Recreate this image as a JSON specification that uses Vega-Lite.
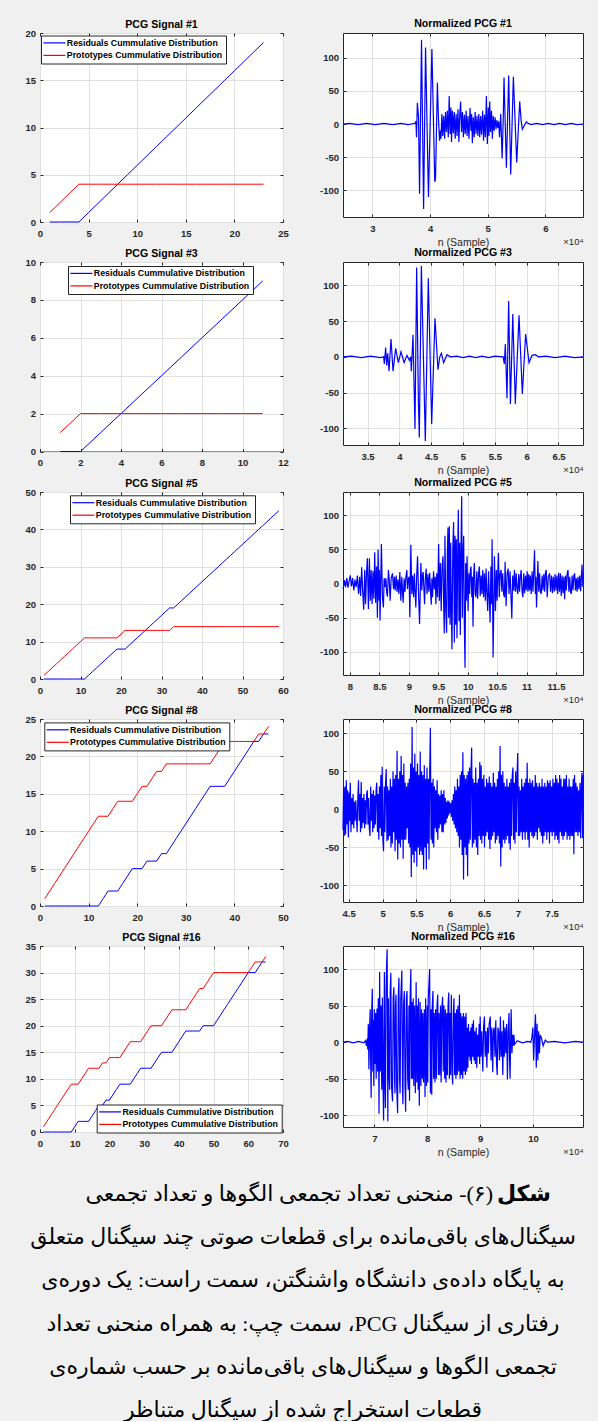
{
"$schema": "https://vega.github.io/schema/vega-lite/v6.json",
"background": "#f0f0f0",
"padding": {"left": 24, "top": 18, "right": 14, "bottom": 0},
"config": {
  "font": "Liberation Sans",
  "view": {"stroke": "#262626", "strokeWidth": 1, "fill": "white"},
  "axis": {"labelFont": "Liberation Sans", "labelFontSize": 9.5, "labelFontWeight": "bold", "labelColor": "#262626", "domain": false, "tickColor": "#262626", "tickSize": -3, "tickWidth": 1, "gridColor": "#e0e0e0", "gridWidth": 1, "labelOverlap": false, "labelFlush": false, "titleFont": "Liberation Sans", "titleFontSize": 10.5, "titleFontWeight": "normal", "titleColor": "#262626"},
  "axisX": {"labelPadding": 9},
  "axisY": {"labelPadding": 7.5},
  "title": {"font": "Liberation Sans", "fontSize": 10.6, "fontWeight": "bold", "color": "black", "offset": -2.5, "frame": "group"},
  "legend": {"orient": "none", "title": null, "fillColor": "white", "strokeColor": "#262626", "padding": 3, "labelFont": "Liberation Sans", "labelFontSize": 8.8, "labelFontWeight": "bold", "labelColor": "black", "symbolType": "M-5,0H17", "symbolSize": 4, "symbolStrokeWidth": 1.2, "rowPadding": 2.5, "labelOffset": 14, "labelLimit": 300}
},
"datasets": {
"p1": [{"k":1,"r":0,"p":1},{"k":2,"r":0,"p":2},{"k":3,"r":0,"p":3},{"k":4,"r":0,"p":4},{"k":5,"r":1,"p":4},{"k":6,"r":2,"p":4},{"k":7,"r":3,"p":4},{"k":8,"r":4,"p":4},{"k":9,"r":5,"p":4},{"k":10,"r":6,"p":4},{"k":11,"r":7,"p":4},{"k":12,"r":8,"p":4},{"k":13,"r":9,"p":4},{"k":14,"r":10,"p":4},{"k":15,"r":11,"p":4},{"k":16,"r":12,"p":4},{"k":17,"r":13,"p":4},{"k":18,"r":14,"p":4},{"k":19,"r":15,"p":4},{"k":20,"r":16,"p":4},{"k":21,"r":17,"p":4},{"k":22,"r":18,"p":4},{"k":23,"r":19,"p":4}],
"p3": [{"k":1,"r":0,"p":1},{"k":2,"r":0,"p":2},{"k":3,"r":1,"p":2},{"k":4,"r":2,"p":2},{"k":5,"r":3,"p":2},{"k":6,"r":4,"p":2},{"k":7,"r":5,"p":2},{"k":8,"r":6,"p":2},{"k":9,"r":7,"p":2},{"k":10,"r":8,"p":2},{"k":11,"r":9,"p":2}],
"p5": [{"k":1,"r":0,"p":1},{"k":2,"r":0,"p":2},{"k":3,"r":0,"p":3},{"k":4,"r":0,"p":4},{"k":5,"r":0,"p":5},{"k":6,"r":0,"p":6},{"k":7,"r":0,"p":7},{"k":8,"r":0,"p":8},{"k":9,"r":0,"p":9},{"k":10,"r":0,"p":10},{"k":11,"r":0,"p":11},{"k":12,"r":1,"p":11},{"k":13,"r":2,"p":11},{"k":14,"r":3,"p":11},{"k":15,"r":4,"p":11},{"k":16,"r":5,"p":11},{"k":17,"r":6,"p":11},{"k":18,"r":7,"p":11},{"k":19,"r":8,"p":11},{"k":20,"r":8,"p":12},{"k":21,"r":8,"p":13},{"k":22,"r":9,"p":13},{"k":23,"r":10,"p":13},{"k":24,"r":11,"p":13},{"k":25,"r":12,"p":13},{"k":26,"r":13,"p":13},{"k":27,"r":14,"p":13},{"k":28,"r":15,"p":13},{"k":29,"r":16,"p":13},{"k":30,"r":17,"p":13},{"k":31,"r":18,"p":13},{"k":32,"r":19,"p":13},{"k":33,"r":19,"p":14},{"k":34,"r":20,"p":14},{"k":35,"r":21,"p":14},{"k":36,"r":22,"p":14},{"k":37,"r":23,"p":14},{"k":38,"r":24,"p":14},{"k":39,"r":25,"p":14},{"k":40,"r":26,"p":14},{"k":41,"r":27,"p":14},{"k":42,"r":28,"p":14},{"k":43,"r":29,"p":14},{"k":44,"r":30,"p":14},{"k":45,"r":31,"p":14},{"k":46,"r":32,"p":14},{"k":47,"r":33,"p":14},{"k":48,"r":34,"p":14},{"k":49,"r":35,"p":14},{"k":50,"r":36,"p":14},{"k":51,"r":37,"p":14},{"k":52,"r":38,"p":14},{"k":53,"r":39,"p":14},{"k":54,"r":40,"p":14},{"k":55,"r":41,"p":14},{"k":56,"r":42,"p":14},{"k":57,"r":43,"p":14},{"k":58,"r":44,"p":14},{"k":59,"r":45,"p":14}],
"p8": [{"k":1,"r":0,"p":1},{"k":2,"r":0,"p":2},{"k":3,"r":0,"p":3},{"k":4,"r":0,"p":4},{"k":5,"r":0,"p":5},{"k":6,"r":0,"p":6},{"k":7,"r":0,"p":7},{"k":8,"r":0,"p":8},{"k":9,"r":0,"p":9},{"k":10,"r":0,"p":10},{"k":11,"r":0,"p":11},{"k":12,"r":0,"p":12},{"k":13,"r":1,"p":12},{"k":14,"r":2,"p":12},{"k":15,"r":2,"p":13},{"k":16,"r":2,"p":14},{"k":17,"r":3,"p":14},{"k":18,"r":4,"p":14},{"k":19,"r":5,"p":14},{"k":20,"r":5,"p":15},{"k":21,"r":5,"p":16},{"k":22,"r":6,"p":16},{"k":23,"r":6,"p":17},{"k":24,"r":6,"p":18},{"k":25,"r":7,"p":18},{"k":26,"r":7,"p":19},{"k":27,"r":8,"p":19},{"k":28,"r":9,"p":19},{"k":29,"r":10,"p":19},{"k":30,"r":11,"p":19},{"k":31,"r":12,"p":19},{"k":32,"r":13,"p":19},{"k":33,"r":14,"p":19},{"k":34,"r":15,"p":19},{"k":35,"r":16,"p":19},{"k":36,"r":16,"p":20},{"k":37,"r":16,"p":21},{"k":38,"r":16,"p":22},{"k":39,"r":17,"p":22},{"k":40,"r":18,"p":22},{"k":41,"r":19,"p":22},{"k":42,"r":20,"p":22},{"k":43,"r":21,"p":22},{"k":44,"r":22,"p":22},{"k":45,"r":22,"p":23},{"k":46,"r":23,"p":23},{"k":47,"r":23,"p":24}],
"p16": [{"k":1,"r":0,"p":1},{"k":2,"r":0,"p":2},{"k":3,"r":0,"p":3},{"k":4,"r":0,"p":4},{"k":5,"r":0,"p":5},{"k":6,"r":0,"p":6},{"k":7,"r":0,"p":7},{"k":8,"r":0,"p":8},{"k":9,"r":0,"p":9},{"k":10,"r":1,"p":9},{"k":11,"r":2,"p":9},{"k":12,"r":2,"p":10},{"k":13,"r":2,"p":11},{"k":14,"r":2,"p":12},{"k":15,"r":3,"p":12},{"k":16,"r":4,"p":12},{"k":17,"r":5,"p":12},{"k":18,"r":5,"p":13},{"k":19,"r":6,"p":13},{"k":20,"r":6,"p":14},{"k":21,"r":7,"p":14},{"k":22,"r":8,"p":14},{"k":23,"r":9,"p":14},{"k":24,"r":9,"p":15},{"k":25,"r":9,"p":16},{"k":26,"r":9,"p":17},{"k":27,"r":10,"p":17},{"k":28,"r":11,"p":17},{"k":29,"r":12,"p":17},{"k":30,"r":12,"p":18},{"k":31,"r":12,"p":19},{"k":32,"r":12,"p":20},{"k":33,"r":13,"p":20},{"k":34,"r":14,"p":20},{"k":35,"r":15,"p":20},{"k":36,"r":15,"p":21},{"k":37,"r":15,"p":22},{"k":38,"r":15,"p":23},{"k":39,"r":16,"p":23},{"k":40,"r":17,"p":23},{"k":41,"r":18,"p":23},{"k":42,"r":19,"p":23},{"k":43,"r":19,"p":24},{"k":44,"r":19,"p":25},{"k":45,"r":19,"p":26},{"k":46,"r":19,"p":27},{"k":47,"r":20,"p":27},{"k":48,"r":20,"p":28},{"k":49,"r":20,"p":29},{"k":50,"r":20,"p":30},{"k":51,"r":21,"p":30},{"k":52,"r":22,"p":30},{"k":53,"r":23,"p":30},{"k":54,"r":24,"p":30},{"k":55,"r":25,"p":30},{"k":56,"r":26,"p":30},{"k":57,"r":27,"p":30},{"k":58,"r":28,"p":30},{"k":59,"r":29,"p":30},{"k":60,"r":30,"p":30},{"k":61,"r":30,"p":31},{"k":62,"r":30,"p":32},{"k":63,"r":31,"p":32},{"k":64,"r":32,"p":32},{"k":65,"r":32,"p":33}],
"s1": [{"n":2.49,"a":0},{"n":2.6,"a":1},{"n":2.75,"a":-1},{"n":2.9,"a":1},{"n":3.05,"a":-1},{"n":3.2,"a":1},{"n":3.35,"a":-1},{"n":3.5,"a":1},{"n":3.62,"a":-1},{"n":3.74,"a":1},{"n":3.755,"a":4},{"n":3.765,"a":-20},{"n":3.78,"a":32},{"n":3.8,"a":10},{"n":3.818,"a":-105},{"n":3.852,"a":127},{"n":3.888,"a":-128},{"n":3.922,"a":115},{"n":3.972,"a":-110},{"n":4.032,"a":113},{"n":4.082,"a":-87},{"n":4.095,"a":-83},{"n":4.127,"a":62},{"n":4.145,"a":10},{"n":4.165,"a":-25},{"n":4.178,"a":-10},{"n":4.19,"a":-22},{"n":4.205,"a":15},{"n":4.22,"a":-18},{"n":4.236,"a":12},{"n":4.252,"a":-22},{"n":4.268,"a":18},{"n":4.284,"a":-12},{"n":4.3,"a":20},{"n":4.316,"a":-20},{"n":4.332,"a":42},{"n":4.348,"a":-15},{"n":4.362,"a":25},{"n":4.372,"a":-27},{"n":4.388,"a":20},{"n":4.404,"a":-14},{"n":4.42,"a":18},{"n":4.436,"a":-22},{"n":4.452,"a":15},{"n":4.468,"a":-18},{"n":4.484,"a":22},{"n":4.5,"a":-27},{"n":4.516,"a":15},{"n":4.53,"a":34},{"n":4.546,"a":-12},{"n":4.562,"a":18},{"n":4.578,"a":-20},{"n":4.594,"a":14},{"n":4.61,"a":-15},{"n":4.626,"a":20},{"n":4.642,"a":-18},{"n":4.658,"a":12},{"n":4.674,"a":-22},{"n":4.694,"a":24},{"n":4.71,"a":-10},{"n":4.722,"a":15},{"n":4.734,"a":-29},{"n":4.75,"a":10},{"n":4.766,"a":-20},{"n":4.782,"a":18},{"n":4.798,"a":-15},{"n":4.814,"a":12},{"n":4.83,"a":-18},{"n":4.846,"a":15},{"n":4.862,"a":-20},{"n":4.878,"a":12},{"n":4.894,"a":-16},{"n":4.912,"a":20},{"n":4.928,"a":-25},{"n":4.944,"a":14},{"n":4.96,"a":-20},{"n":4.977,"a":42},{"n":4.994,"a":-30},{"n":5.01,"a":25},{"n":5.022,"a":-18},{"n":5.035,"a":34},{"n":5.05,"a":-12},{"n":5.066,"a":20},{"n":5.081,"a":-22},{"n":5.096,"a":12},{"n":5.112,"a":-10},{"n":5.128,"a":10},{"n":5.145,"a":-8},{"n":5.16,"a":6},{"n":5.175,"a":-6},{"n":5.19,"a":4},{"n":5.205,"a":-20},{"n":5.225,"a":15},{"n":5.25,"a":-52},{"n":5.27,"a":10},{"n":5.283,"a":70},{"n":5.324,"a":-66},{"n":5.364,"a":73},{"n":5.399,"a":-76},{"n":5.445,"a":71},{"n":5.503,"a":-58},{"n":5.555,"a":34},{"n":5.58,"a":5},{"n":5.601,"a":-8},{"n":5.63,"a":-3},{"n":5.67,"a":3},{"n":5.7,"a":1},{"n":5.75,"a":-1},{"n":5.85,"a":1},{"n":5.95,"a":-1},{"n":6.05,"a":1},{"n":6.15,"a":-1},{"n":6.25,"a":1},{"n":6.35,"a":-1},{"n":6.45,"a":1},{"n":6.55,"a":-1},{"n":6.653,"a":0}],
"s3": [{"n":3.115,"a":0},{"n":3.25,"a":1},{"n":3.4,"a":-1},{"n":3.55,"a":1},{"n":3.7,"a":-1},{"n":3.754,"a":0},{"n":3.764,"a":-10},{"n":3.785,"a":13},{"n":3.801,"a":-12},{"n":3.817,"a":5},{"n":3.838,"a":-20},{"n":3.869,"a":25},{"n":3.901,"a":-20},{"n":3.942,"a":12},{"n":3.984,"a":-8},{"n":4.026,"a":7},{"n":4.075,"a":-8},{"n":4.12,"a":2},{"n":4.16,"a":-5},{"n":4.18,"a":0},{"n":4.188,"a":-20},{"n":4.215,"a":31},{"n":4.246,"a":-101},{"n":4.272,"a":125},{"n":4.3,"a":-65},{"n":4.314,"a":-113},{"n":4.346,"a":127},{"n":4.408,"a":-118},{"n":4.455,"a":110},{"n":4.508,"a":-94},{"n":4.56,"a":54},{"n":4.607,"a":-18},{"n":4.635,"a":0},{"n":4.66,"a":5},{"n":4.696,"a":-8},{"n":4.749,"a":3},{"n":4.8,"a":0},{"n":4.9,"a":1},{"n":5.0,"a":-1},{"n":5.1,"a":1},{"n":5.2,"a":-1},{"n":5.3,"a":1},{"n":5.4,"a":-1},{"n":5.5,"a":1},{"n":5.63,"a":0},{"n":5.649,"a":-10},{"n":5.665,"a":18},{"n":5.691,"a":-58},{"n":5.717,"a":78},{"n":5.745,"a":-66},{"n":5.782,"a":60},{"n":5.822,"a":-66},{"n":5.88,"a":58},{"n":5.932,"a":-52},{"n":5.984,"a":32},{"n":6.037,"a":-8},{"n":6.084,"a":2},{"n":6.136,"a":3},{"n":6.188,"a":0},{"n":6.3,"a":1},{"n":6.45,"a":-1},{"n":6.6,"a":1},{"n":6.75,"a":-1},{"n":6.885,"a":0}],
"s5": [{"n":7.885,"a":-8},{"n":7.905,"a":5},{"n":7.925,"a":-5},{"n":7.945,"a":8},{"n":7.965,"a":-6},{"n":7.985,"a":4},{"n":8.005,"a":12},{"n":8.025,"a":-4},{"n":8.045,"a":8},{"n":8.065,"a":-10},{"n":8.085,"a":6},{"n":8.105,"a":-5},{"n":8.125,"a":12},{"n":8.145,"a":-15},{"n":8.165,"a":10},{"n":8.18,"a":-18},{"n":8.199,"a":24},{"n":8.215,"a":-10},{"n":8.233,"a":-38},{"n":8.25,"a":20},{"n":8.265,"a":-30},{"n":8.28,"a":15},{"n":8.295,"a":37},{"n":8.313,"a":-37},{"n":8.33,"a":37},{"n":8.345,"a":-25},{"n":8.36,"a":20},{"n":8.375,"a":-30},{"n":8.39,"a":18},{"n":8.405,"a":-22},{"n":8.42,"a":46},{"n":8.435,"a":-28},{"n":8.45,"a":25},{"n":8.466,"a":-50},{"n":8.477,"a":50},{"n":8.492,"a":-25},{"n":8.5,"a":20},{"n":8.511,"a":-54},{"n":8.534,"a":58},{"n":8.551,"a":-20},{"n":8.568,"a":-35},{"n":8.58,"a":8},{"n":8.595,"a":-5},{"n":8.61,"a":8},{"n":8.622,"a":-12},{"n":8.636,"a":-19},{"n":8.653,"a":20},{"n":8.668,"a":5},{"n":8.682,"a":-25},{"n":8.7,"a":8},{"n":8.722,"a":15},{"n":8.74,"a":-8},{"n":8.755,"a":10},{"n":8.767,"a":-10},{"n":8.785,"a":12},{"n":8.8,"a":-12},{"n":8.815,"a":6},{"n":8.83,"a":-15},{"n":8.847,"a":17},{"n":8.864,"a":-25},{"n":8.88,"a":10},{"n":8.903,"a":-28},{"n":8.92,"a":8},{"n":8.935,"a":-12},{"n":8.95,"a":10},{"n":8.966,"a":20},{"n":8.977,"a":-8},{"n":8.99,"a":6},{"n":9.005,"a":10},{"n":9.017,"a":-49},{"n":9.034,"a":57},{"n":9.05,"a":-15},{"n":9.065,"a":12},{"n":9.08,"a":-20},{"n":9.095,"a":15},{"n":9.105,"a":-10},{"n":9.119,"a":-35},{"n":9.133,"a":10},{"n":9.148,"a":40},{"n":9.165,"a":-15},{"n":9.182,"a":-59},{"n":9.205,"a":30},{"n":9.22,"a":-10},{"n":9.232,"a":12},{"n":9.244,"a":17},{"n":9.258,"a":-12},{"n":9.267,"a":-30},{"n":9.281,"a":8},{"n":9.295,"a":22},{"n":9.31,"a":-15},{"n":9.325,"a":14},{"n":9.34,"a":-12},{"n":9.355,"a":16},{"n":9.368,"a":-10},{"n":9.381,"a":-31},{"n":9.392,"a":8},{"n":9.403,"a":-20},{"n":9.42,"a":18},{"n":9.435,"a":-8},{"n":9.449,"a":10},{"n":9.46,"a":-30},{"n":9.475,"a":15},{"n":9.49,"a":-20},{"n":9.506,"a":58},{"n":9.52,"a":-25},{"n":9.535,"a":30},{"n":9.55,"a":-40},{"n":9.565,"a":25},{"n":9.58,"a":40},{"n":9.592,"a":-30},{"n":9.602,"a":-73},{"n":9.614,"a":70},{"n":9.628,"a":-40},{"n":9.642,"a":-72},{"n":9.655,"a":45},{"n":9.665,"a":82},{"n":9.676,"a":-50},{"n":9.688,"a":84},{"n":9.7,"a":-60},{"n":9.712,"a":60},{"n":9.722,"a":-40},{"n":9.733,"a":-96},{"n":9.747,"a":50},{"n":9.761,"a":90},{"n":9.773,"a":-86},{"n":9.785,"a":70},{"n":9.796,"a":-60},{"n":9.807,"a":65},{"n":9.818,"a":-80},{"n":9.83,"a":40},{"n":9.841,"a":108},{"n":9.852,"a":-55},{"n":9.864,"a":60},{"n":9.875,"a":-75},{"n":9.887,"a":50},{"n":9.898,"a":128},{"n":9.91,"a":-50},{"n":9.92,"a":40},{"n":9.932,"a":70},{"n":9.943,"a":-60},{"n":9.955,"a":-123},{"n":9.966,"a":30},{"n":9.978,"a":-25},{"n":9.989,"a":40},{"n":10.006,"a":-40},{"n":10.02,"a":15},{"n":10.033,"a":-15},{"n":10.045,"a":20},{"n":10.057,"a":25},{"n":10.07,"a":-20},{"n":10.08,"a":10},{"n":10.091,"a":-63},{"n":10.103,"a":15},{"n":10.114,"a":30},{"n":10.128,"a":-15},{"n":10.142,"a":-20},{"n":10.155,"a":18},{"n":10.17,"a":-22},{"n":10.185,"a":15},{"n":10.199,"a":25},{"n":10.213,"a":-18},{"n":10.228,"a":12},{"n":10.242,"a":-15},{"n":10.256,"a":20},{"n":10.27,"a":-20},{"n":10.285,"a":15},{"n":10.3,"a":-25},{"n":10.313,"a":22},{"n":10.327,"a":-15},{"n":10.341,"a":-40},{"n":10.355,"a":18},{"n":10.368,"a":-20},{"n":10.381,"a":-57},{"n":10.395,"a":25},{"n":10.405,"a":-30},{"n":10.415,"a":65},{"n":10.432,"a":-108},{"n":10.455,"a":40},{"n":10.472,"a":-40},{"n":10.487,"a":20},{"n":10.5,"a":-25},{"n":10.512,"a":15},{"n":10.523,"a":45},{"n":10.537,"a":-20},{"n":10.552,"a":15},{"n":10.568,"a":20},{"n":10.58,"a":-12},{"n":10.595,"a":15},{"n":10.61,"a":-15},{"n":10.625,"a":-20},{"n":10.636,"a":32},{"n":10.653,"a":-33},{"n":10.67,"a":15},{"n":10.688,"a":22},{"n":10.703,"a":-15},{"n":10.72,"a":18},{"n":10.739,"a":-25},{"n":10.75,"a":-51},{"n":10.765,"a":12},{"n":10.78,"a":-10},{"n":10.795,"a":20},{"n":10.81,"a":-12},{"n":10.825,"a":15},{"n":10.84,"a":-10},{"n":10.852,"a":-15},{"n":10.868,"a":14},{"n":10.882,"a":-12},{"n":10.895,"a":10},{"n":10.909,"a":20},{"n":10.925,"a":-12},{"n":10.938,"a":-20},{"n":10.952,"a":15},{"n":10.967,"a":-14},{"n":10.982,"a":12},{"n":10.996,"a":-10},{"n":11.011,"a":18},{"n":11.025,"a":-12},{"n":11.038,"a":14},{"n":11.051,"a":-10},{"n":11.065,"a":12},{"n":11.08,"a":-15},{"n":11.095,"a":18},{"n":11.11,"a":-12},{"n":11.122,"a":15},{"n":11.136,"a":49},{"n":11.15,"a":-15},{"n":11.16,"a":10},{"n":11.17,"a":-35},{"n":11.193,"a":33},{"n":11.208,"a":-12},{"n":11.222,"a":15},{"n":11.236,"a":-12},{"n":11.25,"a":-15},{"n":11.265,"a":12},{"n":11.28,"a":-10},{"n":11.295,"a":14},{"n":11.31,"a":-12},{"n":11.322,"a":16},{"n":11.335,"a":20},{"n":11.352,"a":-20},{"n":11.37,"a":10},{"n":11.392,"a":15},{"n":11.408,"a":-12},{"n":11.425,"a":12},{"n":11.44,"a":-14},{"n":11.455,"a":10},{"n":11.47,"a":-12},{"n":11.485,"a":14},{"n":11.5,"a":-10},{"n":11.515,"a":12},{"n":11.53,"a":-15},{"n":11.545,"a":16},{"n":11.56,"a":-12},{"n":11.575,"a":15},{"n":11.59,"a":-18},{"n":11.605,"a":12},{"n":11.62,"a":-14},{"n":11.635,"a":10},{"n":11.648,"a":-23},{"n":11.662,"a":12},{"n":11.676,"a":-10},{"n":11.69,"a":14},{"n":11.705,"a":20},{"n":11.72,"a":-12},{"n":11.735,"a":10},{"n":11.748,"a":-12},{"n":11.761,"a":-15},{"n":11.775,"a":12},{"n":11.79,"a":-10},{"n":11.805,"a":12},{"n":11.818,"a":15},{"n":11.832,"a":-10},{"n":11.846,"a":8},{"n":11.86,"a":-12},{"n":11.875,"a":10},{"n":11.89,"a":-8},{"n":11.905,"a":12},{"n":11.92,"a":-11},{"n":11.943,"a":28},{"n":11.958,"a":-5}],
"s8": [{"n":4.416,"a":-27},{"n":4.425,"a":28},{"n":4.435,"a":-35},{"n":4.445,"a":30},{"n":4.455,"a":-33},{"n":4.465,"a":38},{"n":4.475,"a":-20},{"n":4.485,"a":25},{"n":4.495,"a":-37},{"n":4.505,"a":22},{"n":4.515,"a":-15},{"n":4.524,"a":35},{"n":4.534,"a":-30},{"n":4.545,"a":15},{"n":4.555,"a":-20},{"n":4.565,"a":20},{"n":4.575,"a":-25},{"n":4.585,"a":10},{"n":4.595,"a":-15},{"n":4.605,"a":12},{"n":4.615,"a":-10},{"n":4.625,"a":-30},{"n":4.635,"a":15},{"n":4.645,"a":38},{"n":4.655,"a":-15},{"n":4.665,"a":20},{"n":4.675,"a":-30},{"n":4.685,"a":36},{"n":4.695,"a":-25},{"n":4.705,"a":15},{"n":4.715,"a":-18},{"n":4.725,"a":20},{"n":4.735,"a":-25},{"n":4.745,"a":12},{"n":4.755,"a":-20},{"n":4.765,"a":20},{"n":4.775,"a":25},{"n":4.785,"a":-20},{"n":4.795,"a":15},{"n":4.805,"a":-25},{"n":4.815,"a":-35},{"n":4.825,"a":30},{"n":4.835,"a":-15},{"n":4.845,"a":20},{"n":4.855,"a":-30},{"n":4.865,"a":25},{"n":4.875,"a":-25},{"n":4.885,"a":18},{"n":4.895,"a":-20},{"n":4.905,"a":25},{"n":4.915,"a":35},{"n":4.925,"a":-30},{"n":4.935,"a":20},{"n":4.945,"a":-40},{"n":4.955,"a":30},{"n":4.965,"a":-25},{"n":4.975,"a":45},{"n":4.985,"a":-35},{"n":4.995,"a":56},{"n":5.005,"a":-40},{"n":5.015,"a":-55},{"n":5.025,"a":30},{"n":5.035,"a":-30},{"n":5.045,"a":35},{"n":5.055,"a":53},{"n":5.065,"a":-42},{"n":5.075,"a":30},{"n":5.085,"a":-40},{"n":5.095,"a":25},{"n":5.105,"a":-35},{"n":5.115,"a":40},{"n":5.125,"a":-50},{"n":5.135,"a":30},{"n":5.145,"a":-45},{"n":5.155,"a":50},{"n":5.165,"a":-30},{"n":5.175,"a":40},{"n":5.185,"a":-55},{"n":5.195,"a":45},{"n":5.205,"a":-40},{"n":5.215,"a":77},{"n":5.225,"a":-66},{"n":5.235,"a":40},{"n":5.245,"a":-45},{"n":5.255,"a":50},{"n":5.265,"a":-50},{"n":5.275,"a":70},{"n":5.285,"a":-40},{"n":5.295,"a":45},{"n":5.305,"a":-65},{"n":5.315,"a":60},{"n":5.325,"a":-40},{"n":5.335,"a":35},{"n":5.345,"a":-40},{"n":5.355,"a":30},{"n":5.365,"a":-25},{"n":5.375,"a":35},{"n":5.385,"a":-45},{"n":5.395,"a":40},{"n":5.405,"a":-50},{"n":5.415,"a":60},{"n":5.425,"a":-89},{"n":5.437,"a":108},{"n":5.447,"a":-60},{"n":5.457,"a":55},{"n":5.467,"a":-70},{"n":5.477,"a":73},{"n":5.487,"a":-55},{"n":5.497,"a":50},{"n":5.507,"a":-75},{"n":5.517,"a":60},{"n":5.527,"a":-50},{"n":5.537,"a":45},{"n":5.547,"a":-60},{"n":5.557,"a":76},{"n":5.567,"a":-55},{"n":5.577,"a":50},{"n":5.587,"a":-60},{"n":5.597,"a":45},{"n":5.607,"a":-79},{"n":5.617,"a":58},{"n":5.627,"a":-50},{"n":5.637,"a":40},{"n":5.647,"a":-79},{"n":5.657,"a":55},{"n":5.667,"a":-45},{"n":5.677,"a":40},{"n":5.687,"a":-66},{"n":5.697,"a":50},{"n":5.707,"a":107},{"n":5.717,"a":-40},{"n":5.727,"a":35},{"n":5.737,"a":-45},{"n":5.747,"a":40},{"n":5.757,"a":-50},{"n":5.767,"a":30},{"n":5.777,"a":-25},{"n":5.787,"a":25},{"n":5.797,"a":-30},{"n":5.807,"a":38},{"n":5.817,"a":-40},{"n":5.827,"a":20},{"n":5.837,"a":-25},{"n":5.847,"a":18},{"n":5.857,"a":-20},{"n":5.867,"a":25},{"n":5.877,"a":-30},{"n":5.887,"a":20},{"n":5.897,"a":-30},{"n":5.907,"a":25},{"n":5.917,"a":-20},{"n":5.927,"a":15},{"n":5.937,"a":-18},{"n":5.947,"a":10},{"n":5.957,"a":-12},{"n":5.967,"a":12},{"n":5.977,"a":-8},{"n":5.987,"a":10},{"n":5.997,"a":-5},{"n":6.007,"a":8},{"n":6.017,"a":-10},{"n":6.027,"a":12},{"n":6.037,"a":-15},{"n":6.047,"a":20},{"n":6.057,"a":-20},{"n":6.067,"a":30},{"n":6.077,"a":-25},{"n":6.087,"a":25},{"n":6.097,"a":-30},{"n":6.107,"a":40},{"n":6.117,"a":-35},{"n":6.127,"a":30},{"n":6.137,"a":-50},{"n":6.147,"a":45},{"n":6.157,"a":-40},{"n":6.167,"a":50},{"n":6.177,"a":-60},{"n":6.187,"a":75},{"n":6.197,"a":-92},{"n":6.207,"a":45},{"n":6.217,"a":-50},{"n":6.227,"a":40},{"n":6.237,"a":-60},{"n":6.247,"a":45},{"n":6.257,"a":-88},{"n":6.267,"a":50},{"n":6.277,"a":-45},{"n":6.287,"a":55},{"n":6.297,"a":-40},{"n":6.307,"a":50},{"n":6.317,"a":81},{"n":6.327,"a":-50},{"n":6.337,"a":40},{"n":6.347,"a":-45},{"n":6.357,"a":35},{"n":6.367,"a":-40},{"n":6.377,"a":55},{"n":6.387,"a":-50},{"n":6.397,"a":35},{"n":6.407,"a":-60},{"n":6.417,"a":40},{"n":6.427,"a":-35},{"n":6.437,"a":62},{"n":6.447,"a":-40},{"n":6.457,"a":58},{"n":6.467,"a":-45},{"n":6.477,"a":40},{"n":6.487,"a":-35},{"n":6.497,"a":45},{"n":6.507,"a":-50},{"n":6.517,"a":30},{"n":6.527,"a":-35},{"n":6.537,"a":40},{"n":6.547,"a":-30},{"n":6.557,"a":35},{"n":6.567,"a":-40},{"n":6.577,"a":43},{"n":6.587,"a":-52},{"n":6.597,"a":35},{"n":6.607,"a":-40},{"n":6.617,"a":30},{"n":6.627,"a":-35},{"n":6.637,"a":48},{"n":6.647,"a":-30},{"n":6.657,"a":35},{"n":6.667,"a":-45},{"n":6.677,"a":30},{"n":6.687,"a":-40},{"n":6.697,"a":40},{"n":6.707,"a":-35},{"n":6.717,"a":50},{"n":6.727,"a":-45},{"n":6.737,"a":83},{"n":6.747,"a":-75},{"n":6.757,"a":45},{"n":6.767,"a":-50},{"n":6.777,"a":50},{"n":6.787,"a":-40},{"n":6.797,"a":35},{"n":6.807,"a":-45},{"n":6.817,"a":30},{"n":6.827,"a":-40},{"n":6.837,"a":40},{"n":6.847,"a":-35},{"n":6.857,"a":30},{"n":6.867,"a":-45},{"n":6.877,"a":35},{"n":6.887,"a":-53},{"n":6.897,"a":40},{"n":6.907,"a":-35},{"n":6.917,"a":45},{"n":6.927,"a":55},{"n":6.937,"a":-40},{"n":6.947,"a":35},{"n":6.957,"a":-45},{"n":6.967,"a":50},{"n":6.977,"a":-30},{"n":6.987,"a":40},{"n":6.997,"a":74},{"n":7.007,"a":-35},{"n":7.017,"a":30},{"n":7.027,"a":-35},{"n":7.037,"a":25},{"n":7.047,"a":-30},{"n":7.057,"a":40},{"n":7.067,"a":-40},{"n":7.077,"a":30},{"n":7.087,"a":-30},{"n":7.097,"a":35},{"n":7.107,"a":-40},{"n":7.117,"a":40},{"n":7.127,"a":-30},{"n":7.137,"a":61},{"n":7.147,"a":-40},{"n":7.157,"a":35},{"n":7.167,"a":-50},{"n":7.177,"a":40},{"n":7.187,"a":-30},{"n":7.197,"a":35},{"n":7.207,"a":-35},{"n":7.217,"a":38},{"n":7.227,"a":-38},{"n":7.237,"a":30},{"n":7.247,"a":-35},{"n":7.257,"a":45},{"n":7.267,"a":-30},{"n":7.277,"a":35},{"n":7.287,"a":-40},{"n":7.297,"a":30},{"n":7.307,"a":-25},{"n":7.317,"a":35},{"n":7.327,"a":-30},{"n":7.337,"a":30},{"n":7.347,"a":-35},{"n":7.357,"a":40},{"n":7.367,"a":-45},{"n":7.377,"a":30},{"n":7.387,"a":-35},{"n":7.397,"a":35},{"n":7.407,"a":-30},{"n":7.417,"a":30},{"n":7.427,"a":-40},{"n":7.437,"a":38},{"n":7.447,"a":-30},{"n":7.457,"a":35},{"n":7.467,"a":-45},{"n":7.477,"a":38},{"n":7.487,"a":-30},{"n":7.497,"a":30},{"n":7.507,"a":-35},{"n":7.517,"a":40},{"n":7.527,"a":-30},{"n":7.537,"a":35},{"n":7.547,"a":-40},{"n":7.557,"a":45},{"n":7.567,"a":-35},{"n":7.577,"a":40},{"n":7.587,"a":-40},{"n":7.597,"a":35},{"n":7.607,"a":-45},{"n":7.617,"a":45},{"n":7.627,"a":-30},{"n":7.637,"a":40},{"n":7.647,"a":-35},{"n":7.657,"a":30},{"n":7.667,"a":-40},{"n":7.677,"a":40},{"n":7.687,"a":-35},{"n":7.697,"a":40},{"n":7.707,"a":-30},{"n":7.717,"a":45},{"n":7.727,"a":-40},{"n":7.737,"a":30},{"n":7.747,"a":-35},{"n":7.757,"a":40},{"n":7.767,"a":-40},{"n":7.777,"a":30},{"n":7.787,"a":-35},{"n":7.797,"a":30},{"n":7.807,"a":-35},{"n":7.817,"a":40},{"n":7.827,"a":-59},{"n":7.837,"a":45},{"n":7.847,"a":-30},{"n":7.857,"a":35},{"n":7.867,"a":-30},{"n":7.877,"a":30},{"n":7.887,"a":-35},{"n":7.897,"a":25},{"n":7.907,"a":-30},{"n":7.917,"a":35},{"n":7.927,"a":-38},{"n":7.937,"a":30},{"n":7.947,"a":48},{"n":7.955,"a":-38},{"n":7.962,"a":45}],
"s16": [{"n":6.41,"a":0},{"n":6.5,"a":1},{"n":6.6,"a":-1},{"n":6.7,"a":1},{"n":6.8,"a":-1},{"n":6.834,"a":2},{"n":6.85,"a":-5},{"n":6.866,"a":5},{"n":6.876,"a":-10},{"n":6.886,"a":25},{"n":6.898,"a":-37},{"n":6.91,"a":20},{"n":6.922,"a":45},{"n":6.93,"a":-20},{"n":6.94,"a":-76},{"n":6.95,"a":40},{"n":6.962,"a":73},{"n":6.972,"a":-40},{"n":6.982,"a":30},{"n":6.99,"a":-60},{"n":7.0,"a":45},{"n":7.012,"a":-30},{"n":7.025,"a":40},{"n":7.035,"a":-50},{"n":7.05,"a":46},{"n":7.062,"a":-40},{"n":7.075,"a":60},{"n":7.089,"a":-98},{"n":7.1,"a":96},{"n":7.115,"a":-40},{"n":7.128,"a":50},{"n":7.14,"a":-65},{"n":7.153,"a":61},{"n":7.165,"a":-60},{"n":7.175,"a":-107},{"n":7.19,"a":96},{"n":7.2,"a":-60},{"n":7.21,"a":-90},{"n":7.222,"a":70},{"n":7.23,"a":100},{"n":7.242,"a":127},{"n":7.255,"a":-108},{"n":7.266,"a":60},{"n":7.276,"a":-40},{"n":7.29,"a":-65},{"n":7.3,"a":70},{"n":7.312,"a":95},{"n":7.325,"a":-60},{"n":7.344,"a":-81},{"n":7.356,"a":60},{"n":7.37,"a":75},{"n":7.382,"a":-50},{"n":7.39,"a":-70},{"n":7.4,"a":50},{"n":7.41,"a":65},{"n":7.422,"a":-60},{"n":7.44,"a":-97},{"n":7.452,"a":60},{"n":7.465,"a":88},{"n":7.477,"a":-50},{"n":7.487,"a":-70},{"n":7.5,"a":60},{"n":7.52,"a":98},{"n":7.532,"a":-60},{"n":7.54,"a":-85},{"n":7.552,"a":50},{"n":7.567,"a":70},{"n":7.58,"a":-60},{"n":7.592,"a":-95},{"n":7.605,"a":60},{"n":7.618,"a":70},{"n":7.63,"a":-50},{"n":7.642,"a":-65},{"n":7.654,"a":50},{"n":7.665,"a":-80},{"n":7.676,"a":60},{"n":7.69,"a":100},{"n":7.7,"a":-50},{"n":7.71,"a":55},{"n":7.722,"a":-50},{"n":7.735,"a":60},{"n":7.746,"a":-60},{"n":7.76,"a":50},{"n":7.775,"a":-70},{"n":7.79,"a":82},{"n":7.802,"a":-55},{"n":7.815,"a":50},{"n":7.828,"a":-65},{"n":7.835,"a":60},{"n":7.85,"a":-87},{"n":7.865,"a":55},{"n":7.88,"a":-60},{"n":7.892,"a":45},{"n":7.905,"a":-50},{"n":7.917,"a":40},{"n":7.93,"a":-55},{"n":7.945,"a":45},{"n":7.958,"a":-75},{"n":7.97,"a":60},{"n":7.985,"a":-60},{"n":8.0,"a":50},{"n":8.01,"a":-55},{"n":8.02,"a":60},{"n":8.045,"a":100},{"n":8.06,"a":-70},{"n":8.072,"a":45},{"n":8.085,"a":-72},{"n":8.095,"a":50},{"n":8.108,"a":70},{"n":8.12,"a":-50},{"n":8.132,"a":40},{"n":8.145,"a":-55},{"n":8.158,"a":45},{"n":8.172,"a":-50},{"n":8.185,"a":50},{"n":8.198,"a":65},{"n":8.21,"a":-45},{"n":8.222,"a":40},{"n":8.236,"a":-45},{"n":8.25,"a":50},{"n":8.262,"a":-55},{"n":8.275,"a":45},{"n":8.29,"a":62},{"n":8.302,"a":-40},{"n":8.315,"a":50},{"n":8.33,"a":-50},{"n":8.342,"a":45},{"n":8.355,"a":-55},{"n":8.368,"a":40},{"n":8.38,"a":-45},{"n":8.393,"a":50},{"n":8.406,"a":68},{"n":8.418,"a":-50},{"n":8.43,"a":40},{"n":8.44,"a":-45},{"n":8.455,"a":65},{"n":8.468,"a":-40},{"n":8.48,"a":-58},{"n":8.493,"a":40},{"n":8.505,"a":60},{"n":8.518,"a":-45},{"n":8.53,"a":40},{"n":8.542,"a":-50},{"n":8.555,"a":45},{"n":8.568,"a":-45},{"n":8.58,"a":50},{"n":8.595,"a":-40},{"n":8.608,"a":65},{"n":8.62,"a":-50},{"n":8.632,"a":40},{"n":8.645,"a":-45},{"n":8.657,"a":35},{"n":8.67,"a":-50},{"n":8.682,"a":40},{"n":8.695,"a":-40},{"n":8.708,"a":35},{"n":8.72,"a":-45},{"n":8.733,"a":40},{"n":8.745,"a":-40},{"n":8.755,"a":20},{"n":8.768,"a":-35},{"n":8.78,"a":25},{"n":8.79,"a":-20},{"n":8.8,"a":15},{"n":8.812,"a":-25},{"n":8.825,"a":20},{"n":8.835,"a":-30},{"n":8.85,"a":25},{"n":8.862,"a":-20},{"n":8.873,"a":30},{"n":8.885,"a":-25},{"n":8.898,"a":15},{"n":8.91,"a":-30},{"n":8.925,"a":20},{"n":8.936,"a":-35},{"n":8.95,"a":10},{"n":8.965,"a":-20},{"n":8.98,"a":25},{"n":8.99,"a":-30},{"n":9.0,"a":35},{"n":9.015,"a":-20},{"n":9.03,"a":15},{"n":9.05,"a":-40},{"n":9.064,"a":20},{"n":9.08,"a":35},{"n":9.095,"a":-20},{"n":9.11,"a":15},{"n":9.127,"a":-35},{"n":9.14,"a":20},{"n":9.155,"a":-15},{"n":9.17,"a":25},{"n":9.191,"a":35},{"n":9.205,"a":-25},{"n":9.22,"a":20},{"n":9.237,"a":-41},{"n":9.25,"a":15},{"n":9.265,"a":20},{"n":9.28,"a":-20},{"n":9.295,"a":30},{"n":9.31,"a":-30},{"n":9.322,"a":-45},{"n":9.335,"a":20},{"n":9.35,"a":15},{"n":9.365,"a":-25},{"n":9.382,"a":35},{"n":9.395,"a":-20},{"n":9.41,"a":15},{"n":9.428,"a":-45},{"n":9.44,"a":30},{"n":9.455,"a":-20},{"n":9.47,"a":20},{"n":9.485,"a":-15},{"n":9.5,"a":25},{"n":9.515,"a":-51},{"n":9.53,"a":15},{"n":9.545,"a":40},{"n":9.556,"a":-25},{"n":9.565,"a":-50},{"n":9.585,"a":45},{"n":9.6,"a":-15},{"n":9.615,"a":10},{"n":9.63,"a":-5},{"n":9.637,"a":10},{"n":9.65,"a":-3},{"n":9.7,"a":2},{"n":9.8,"a":-1},{"n":9.9,"a":1},{"n":9.955,"a":0},{"n":9.975,"a":5},{"n":9.995,"a":20},{"n":10.01,"a":-25},{"n":10.03,"a":15},{"n":10.045,"a":38},{"n":10.06,"a":-35},{"n":10.075,"a":25},{"n":10.09,"a":-25},{"n":10.105,"a":15},{"n":10.12,"a":-15},{"n":10.135,"a":10},{"n":10.16,"a":5},{"n":10.19,"a":-5},{"n":10.23,"a":3},{"n":10.274,"a":0},{"n":10.4,"a":1},{"n":10.6,"a":-1},{"n":10.8,"a":1},{"n":10.94,"a":0}],
"cap": [
{"i":2,"t":"\u202bسیگنال\u200cهای باقی\u200cمانده برای قطعات صوتی چند سیگنال متعلق\u202c"},
{"i":3,"t":"\u202bبه پایگاه داده\u200cی دانشگاه واشنگتن، سمت راست: یک دوره\u200cی\u202c"},
{"i":4,"t":"\u202bرفتاری از سیگنال PCG، سمت چپ: به همراه منحنی تعداد\u202c"},
{"i":5,"t":"\u202bتجمعی الگوها و سیگنال\u200cهای باقی\u200cمانده بر حسب شماره\u200cی\u202c"},
{"i":6,"t":"\u202bقطعات استخراج شده از سیگنال متناظر\u202c"}
]
},
"resolve": {"scale": {"color": "independent"}},
"spacing": 24.5,
"vconcat": [
{
"columns": 2,
"bounds": "flush",
"spacing": {"row": 40, "column": 60},
"resolve": {"scale": {"color": "independent"}},
"concat": [
{
 "width": 243, "height": 189, "title": "PCG Signal #1",
 "resolve": {"axis": {"x": "independent", "y": "independent"}},
 "layer": [
  {"data": {"name": "p1"}, "mark": {"type": "line", "strokeWidth": 1},
   "encoding": {
    "x": {"field": "k", "type": "quantitative", "scale": {"domain": [0, 25], "nice": false, "zero": false}, "axis": {"values": [0,5,10,15,20,25], "title": null, "labelExpr": "'' + datum.value"}},
    "y": {"field": "r", "type": "quantitative", "scale": {"domain": [0, 20], "nice": false, "zero": false}, "axis": {"values": [0,5,10,15,20], "title": null, "labelExpr": "'' + datum.value"}},
    "color": {"datum": "Residuals Cummulative Distribution", "scale": {"domain": ["Residuals Cummulative Distribution", "Prototypes Cummulative Distribution"], "range": ["#0000ff", "#ff0000"]}, "legend": {"legendX": 1, "legendY": 2.5}}
   }},
  {"data": {"name": "p1"}, "mark": {"type": "line", "strokeWidth": 1},
   "encoding": {
    "x": {"field": "k", "type": "quantitative", "scale": {"domain": [0, 25], "nice": false, "zero": false}, "axis": null},
    "y": {"field": "p", "type": "quantitative", "scale": {"domain": [0, 20], "nice": false, "zero": false}, "axis": null},
    "color": {"datum": "Prototypes Cummulative Distribution"}
   }},
  {"data": {"values": []}, "mark": "point",
   "encoding": {
    "x": {"field": "k", "type": "quantitative", "scale": {"domain": [0, 25], "nice": false, "zero": false}, "axis": {"orient": "top", "labels": false, "grid": false, "title": null, "values": [0,5,10,15,20,25]}},
    "y": {"field": "r", "type": "quantitative", "scale": {"domain": [0, 20], "nice": false, "zero": false}, "axis": {"orient": "right", "labels": false, "grid": false, "title": null, "values": [0,5,10,15,20]}}
   }}
 ]
},
{
 "width": 240, "height": 184, "title": {"text": "Normalized PCG #1", "offset": 2.5},
 "resolve": {"axis": {"x": "independent", "y": "independent"}},
 "layer": [
  {"data": {"name": "s1"}, "mark": {"type": "line", "color": "#0000ff", "strokeWidth": 1.2},
   "encoding": {
    "x": {"field": "n", "type": "quantitative", "scale": {"domain": [2.49, 6.653], "nice": false, "zero": false}, "axis": {"values": [3,4,5,6], "labelExpr": "'' + datum.value", "title": "n (Sample)", "titleX": 120, "titleY": 25, "titleBaseline": "middle"}},
    "y": {"field": "a", "type": "quantitative", "scale": {"domain": [-140, 137], "nice": false, "zero": false}, "axis": {"values": [-100,-50,0,50,100], "labelExpr": "'' + datum.value", "title": null}}
   }},
  {"data": {"values": []}, "mark": "point",
   "encoding": {
    "x": {"field": "n", "type": "quantitative", "scale": {"domain": [2.49, 6.653], "nice": false, "zero": false}, "axis": {"orient": "top", "labels": false, "grid": false, "title": null, "values": [3,4,5,6]}},
    "y": {"field": "a", "type": "quantitative", "scale": {"domain": [-140, 137], "nice": false, "zero": false}, "axis": {"orient": "right", "labels": false, "grid": false, "title": null, "values": [-100,-50,0,50,100]}}
   }},
  {"data": {"values": []}, "mark": "point",
   "encoding": {
    "x": {"field": "n", "type": "quantitative", "scale": {"domain": [2.49, 6.653], "nice": false, "zero": false}, "axis": {"orient": "bottom", "labels": false, "ticks": false, "grid": false, "title": "×10⁴", "titleX": 240, "titleY": 27, "titleAlign": "right", "titleBaseline": "alphabetic", "titleFontSize": 9.5}}
   }}
 ]
},
{
 "width": 243, "height": 189.5, "title": "PCG Signal #3",
 "resolve": {"axis": {"x": "independent", "y": "independent"}},
 "layer": [
  {"data": {"name": "p3"}, "mark": {"type": "line", "strokeWidth": 1},
   "encoding": {
    "x": {"field": "k", "type": "quantitative", "scale": {"domain": [0, 12], "nice": false, "zero": false}, "axis": {"values": [0,2,4,6,8,10,12], "title": null, "labelExpr": "'' + datum.value"}},
    "y": {"field": "r", "type": "quantitative", "scale": {"domain": [0, 10], "nice": false, "zero": false}, "axis": {"values": [0,2,4,6,8,10], "title": null, "labelExpr": "'' + datum.value"}},
    "color": {"datum": "Residuals Cummulative Distribution", "scale": {"domain": ["Residuals Cummulative Distribution", "Prototypes Cummulative Distribution"], "range": ["#0000ff", "#ff0000"]}, "legend": {"legendX": 28, "legendY": 4}}
   }},
  {"data": {"name": "p3"}, "mark": {"type": "line", "strokeWidth": 1},
   "encoding": {
    "x": {"field": "k", "type": "quantitative", "scale": {"domain": [0, 12], "nice": false, "zero": false}, "axis": null},
    "y": {"field": "p", "type": "quantitative", "scale": {"domain": [0, 10], "nice": false, "zero": false}, "axis": null},
    "color": {"datum": "Prototypes Cummulative Distribution"}
   }},
  {"data": {"values": []}, "mark": "point",
   "encoding": {
    "x": {"field": "k", "type": "quantitative", "scale": {"domain": [0, 12], "nice": false, "zero": false}, "axis": {"orient": "top", "labels": false, "grid": false, "title": null, "values": [0,2,4,6,8,10,12]}},
    "y": {"field": "r", "type": "quantitative", "scale": {"domain": [0, 10], "nice": false, "zero": false}, "axis": {"orient": "right", "labels": false, "grid": false, "title": null, "values": [0,2,4,6,8,10]}}
   }}
 ]
},
{
 "width": 240, "height": 183, "title": {"text": "Normalized PCG #3", "offset": 2.5},
 "resolve": {"axis": {"x": "independent", "y": "independent"}},
 "layer": [
  {"data": {"name": "s3"}, "mark": {"type": "line", "color": "#0000ff", "strokeWidth": 1.2},
   "encoding": {
    "x": {"field": "n", "type": "quantitative", "scale": {"domain": [3.115, 6.885], "nice": false, "zero": false}, "axis": {"values": [3.5,4,4.5,5,5.5,6,6.5], "labelExpr": "'' + datum.value", "title": "n (Sample)", "titleX": 120, "titleY": 25, "titleBaseline": "middle"}},
    "y": {"field": "a", "type": "quantitative", "scale": {"domain": [-123.4, 132.7], "nice": false, "zero": false}, "axis": {"values": [-100,-50,0,50,100], "labelExpr": "'' + datum.value", "title": null}}
   }},
  {"data": {"values": []}, "mark": "point",
   "encoding": {
    "x": {"field": "n", "type": "quantitative", "scale": {"domain": [3.115, 6.885], "nice": false, "zero": false}, "axis": {"orient": "top", "labels": false, "grid": false, "title": null, "values": [3.5,4,4.5,5,5.5,6,6.5]}},
    "y": {"field": "a", "type": "quantitative", "scale": {"domain": [-123.4, 132.7], "nice": false, "zero": false}, "axis": {"orient": "right", "labels": false, "grid": false, "title": null, "values": [-100,-50,0,50,100]}}
   }},
  {"data": {"values": []}, "mark": "point",
   "encoding": {
    "x": {"field": "n", "type": "quantitative", "scale": {"domain": [3.115, 6.885], "nice": false, "zero": false}, "axis": {"orient": "bottom", "labels": false, "ticks": false, "grid": false, "title": "×10⁴", "titleX": 240, "titleY": 27, "titleAlign": "right", "titleBaseline": "alphabetic", "titleFontSize": 9.5}}
   }}
 ]
},
{
 "width": 243, "height": 187, "title": "PCG Signal #5",
 "resolve": {"axis": {"x": "independent", "y": "independent"}},
 "layer": [
  {"data": {"name": "p5"}, "mark": {"type": "line", "strokeWidth": 1},
   "encoding": {
    "x": {"field": "k", "type": "quantitative", "scale": {"domain": [0, 60], "nice": false, "zero": false}, "axis": {"values": [0,10,20,30,40,50,60], "title": null, "labelExpr": "'' + datum.value"}},
    "y": {"field": "r", "type": "quantitative", "scale": {"domain": [0, 50], "nice": false, "zero": false}, "axis": {"values": [0,10,20,30,40,50], "title": null, "labelExpr": "'' + datum.value"}},
    "color": {"datum": "Residuals Cummulative Distribution", "scale": {"domain": ["Residuals Cummulative Distribution", "Prototypes Cummulative Distribution"], "range": ["#0000ff", "#ff0000"]}, "legend": {"legendX": 30, "legendY": 3.3}}
   }},
  {"data": {"name": "p5"}, "mark": {"type": "line", "strokeWidth": 1},
   "encoding": {
    "x": {"field": "k", "type": "quantitative", "scale": {"domain": [0, 60], "nice": false, "zero": false}, "axis": null},
    "y": {"field": "p", "type": "quantitative", "scale": {"domain": [0, 50], "nice": false, "zero": false}, "axis": null},
    "color": {"datum": "Prototypes Cummulative Distribution"}
   }},
  {"data": {"values": []}, "mark": "point",
   "encoding": {
    "x": {"field": "k", "type": "quantitative", "scale": {"domain": [0, 60], "nice": false, "zero": false}, "axis": {"orient": "top", "labels": false, "grid": false, "title": null, "values": [0,10,20,30,40,50,60]}},
    "y": {"field": "r", "type": "quantitative", "scale": {"domain": [0, 50], "nice": false, "zero": false}, "axis": {"orient": "right", "labels": false, "grid": false, "title": null, "values": [0,10,20,30,40,50]}}
   }}
 ]
},
{
 "width": 240, "height": 183, "title": {"text": "Normalized PCG #5", "offset": 2.5},
 "resolve": {"axis": {"x": "independent", "y": "independent"}},
 "layer": [
  {"data": {"name": "s5"}, "mark": {"type": "line", "color": "#0000ff", "strokeWidth": 1.2},
   "encoding": {
    "x": {"field": "n", "type": "quantitative", "scale": {"domain": [7.881, 11.96], "nice": false, "zero": false}, "axis": {"values": [8,8.5,9,9.5,10,10.5,11,11.5], "labelExpr": "'' + datum.value", "title": "n (Sample)", "titleX": 120, "titleY": 25, "titleBaseline": "middle"}},
    "y": {"field": "a", "type": "quantitative", "scale": {"domain": [-133.7, 134.1], "nice": false, "zero": false}, "axis": {"values": [-100,-50,0,50,100], "labelExpr": "'' + datum.value", "title": null}}
   }},
  {"data": {"values": []}, "mark": "point",
   "encoding": {
    "x": {"field": "n", "type": "quantitative", "scale": {"domain": [7.881, 11.96], "nice": false, "zero": false}, "axis": {"orient": "top", "labels": false, "grid": false, "title": null, "values": [8,8.5,9,9.5,10,10.5,11,11.5]}},
    "y": {"field": "a", "type": "quantitative", "scale": {"domain": [-133.7, 134.1], "nice": false, "zero": false}, "axis": {"orient": "right", "labels": false, "grid": false, "title": null, "values": [-100,-50,0,50,100]}}
   }},
  {"data": {"values": []}, "mark": "point",
   "encoding": {
    "x": {"field": "n", "type": "quantitative", "scale": {"domain": [7.881, 11.96], "nice": false, "zero": false}, "axis": {"orient": "bottom", "labels": false, "ticks": false, "grid": false, "title": "×10⁴", "titleX": 240, "titleY": 27, "titleAlign": "right", "titleBaseline": "alphabetic", "titleFontSize": 9.5}}
   }}
 ]
},
{
 "width": 243, "height": 187, "title": "PCG Signal #8",
 "resolve": {"axis": {"x": "independent", "y": "independent"}},
 "layer": [
  {"data": {"name": "p8"}, "mark": {"type": "line", "strokeWidth": 1},
   "encoding": {
    "x": {"field": "k", "type": "quantitative", "scale": {"domain": [0, 50], "nice": false, "zero": false}, "axis": {"values": [0,10,20,30,40,50], "title": null, "labelExpr": "'' + datum.value"}},
    "y": {"field": "r", "type": "quantitative", "scale": {"domain": [0, 25], "nice": false, "zero": false}, "axis": {"values": [0,5,10,15,20,25], "title": null, "labelExpr": "'' + datum.value"}},
    "color": {"datum": "Residuals Cummulative Distribution", "scale": {"domain": ["Residuals Cummulative Distribution", "Prototypes Cummulative Distribution"], "range": ["#0000ff", "#ff0000"]}, "legend": {"legendX": 4.3, "legendY": 3.4}}
   }},
  {"data": {"name": "p8"}, "mark": {"type": "line", "strokeWidth": 1},
   "encoding": {
    "x": {"field": "k", "type": "quantitative", "scale": {"domain": [0, 50], "nice": false, "zero": false}, "axis": null},
    "y": {"field": "p", "type": "quantitative", "scale": {"domain": [0, 25], "nice": false, "zero": false}, "axis": null},
    "color": {"datum": "Prototypes Cummulative Distribution"}
   }},
  {"data": {"values": []}, "mark": "point",
   "encoding": {
    "x": {"field": "k", "type": "quantitative", "scale": {"domain": [0, 50], "nice": false, "zero": false}, "axis": {"orient": "top", "labels": false, "grid": false, "title": null, "values": [0,10,20,30,40,50]}},
    "y": {"field": "r", "type": "quantitative", "scale": {"domain": [0, 25], "nice": false, "zero": false}, "axis": {"orient": "right", "labels": false, "grid": false, "title": null, "values": [0,5,10,15,20,25]}}
   }}
 ]
},
{
 "width": 240, "height": 183, "title": {"text": "Normalized PCG #8", "offset": 2.5},
 "resolve": {"axis": {"x": "independent", "y": "independent"}},
 "layer": [
  {"data": {"name": "s8"}, "mark": {"type": "line", "color": "#0000ff", "strokeWidth": 1.2},
   "encoding": {
    "x": {"field": "n", "type": "quantitative", "scale": {"domain": [4.416, 7.962], "nice": false, "zero": false}, "axis": {"values": [4.5,5,5.5,6,6.5,7,7.5], "labelExpr": "'' + datum.value", "title": "n (Sample)", "titleX": 120, "titleY": 25, "titleBaseline": "middle"}},
    "y": {"field": "a", "type": "quantitative", "scale": {"domain": [-121.7, 118.6], "nice": false, "zero": false}, "axis": {"values": [-100,-50,0,50,100], "labelExpr": "'' + datum.value", "title": null}}
   }},
  {"data": {"values": []}, "mark": "point",
   "encoding": {
    "x": {"field": "n", "type": "quantitative", "scale": {"domain": [4.416, 7.962], "nice": false, "zero": false}, "axis": {"orient": "top", "labels": false, "grid": false, "title": null, "values": [4.5,5,5.5,6,6.5,7,7.5]}},
    "y": {"field": "a", "type": "quantitative", "scale": {"domain": [-121.7, 118.6], "nice": false, "zero": false}, "axis": {"orient": "right", "labels": false, "grid": false, "title": null, "values": [-100,-50,0,50,100]}}
   }},
  {"data": {"values": []}, "mark": "point",
   "encoding": {
    "x": {"field": "n", "type": "quantitative", "scale": {"domain": [4.416, 7.962], "nice": false, "zero": false}, "axis": {"orient": "bottom", "labels": false, "ticks": false, "grid": false, "title": "×10⁴", "titleX": 240, "titleY": 27, "titleAlign": "right", "titleBaseline": "alphabetic", "titleFontSize": 9.5}}
   }}
 ]
},
{
 "width": 243, "height": 186, "title": "PCG Signal #16",
 "resolve": {"axis": {"x": "independent", "y": "independent"}},
 "layer": [
  {"data": {"name": "p16"}, "mark": {"type": "line", "strokeWidth": 1},
   "encoding": {
    "x": {"field": "k", "type": "quantitative", "scale": {"domain": [0, 70], "nice": false, "zero": false}, "axis": {"values": [0,10,20,30,40,50,60,70], "title": null, "labelExpr": "'' + datum.value"}},
    "y": {"field": "r", "type": "quantitative", "scale": {"domain": [0, 35], "nice": false, "zero": false}, "axis": {"values": [0,5,10,15,20,25,30,35], "title": null, "labelExpr": "'' + datum.value"}},
    "color": {"datum": "Residuals Cummulative Distribution", "scale": {"domain": ["Residuals Cummulative Distribution", "Prototypes Cummulative Distribution"], "range": ["#0000ff", "#ff0000"]}, "legend": {"legendX": 56.7, "legendY": 158.5}}
   }},
  {"data": {"name": "p16"}, "mark": {"type": "line", "strokeWidth": 1},
   "encoding": {
    "x": {"field": "k", "type": "quantitative", "scale": {"domain": [0, 70], "nice": false, "zero": false}, "axis": null},
    "y": {"field": "p", "type": "quantitative", "scale": {"domain": [0, 35], "nice": false, "zero": false}, "axis": null},
    "color": {"datum": "Prototypes Cummulative Distribution"}
   }},
  {"data": {"values": []}, "mark": "point",
   "encoding": {
    "x": {"field": "k", "type": "quantitative", "scale": {"domain": [0, 70], "nice": false, "zero": false}, "axis": {"orient": "top", "labels": false, "grid": false, "title": null, "values": [0,10,20,30,40,50,60,70]}},
    "y": {"field": "r", "type": "quantitative", "scale": {"domain": [0, 35], "nice": false, "zero": false}, "axis": {"orient": "right", "labels": false, "grid": false, "title": null, "values": [0,5,10,15,20,25,30,35]}}
   }}
 ]
},
{
 "width": 240, "height": 181, "title": {"text": "Normalized PCG #16", "offset": 2.5},
 "resolve": {"axis": {"x": "independent", "y": "independent"}},
 "layer": [
  {"data": {"name": "s16"}, "mark": {"type": "line", "color": "#0000ff", "strokeWidth": 1.2},
   "encoding": {
    "x": {"field": "n", "type": "quantitative", "scale": {"domain": [6.408, 10.943], "nice": false, "zero": false}, "axis": {"values": [7,8,9,10], "labelExpr": "'' + datum.value", "title": "n (Sample)", "titleX": 120, "titleY": 25, "titleBaseline": "middle"}},
    "y": {"field": "a", "type": "quantitative", "scale": {"domain": [-116, 131.5], "nice": false, "zero": false}, "axis": {"values": [-100,-50,0,50,100], "labelExpr": "'' + datum.value", "title": null}}
   }},
  {"data": {"values": []}, "mark": "point",
   "encoding": {
    "x": {"field": "n", "type": "quantitative", "scale": {"domain": [6.408, 10.943], "nice": false, "zero": false}, "axis": {"orient": "top", "labels": false, "grid": false, "title": null, "values": [7,8,9,10]}},
    "y": {"field": "a", "type": "quantitative", "scale": {"domain": [-116, 131.5], "nice": false, "zero": false}, "axis": {"orient": "right", "labels": false, "grid": false, "title": null, "values": [-100,-50,0,50,100]}}
   }},
  {"data": {"values": []}, "mark": "point",
   "encoding": {
    "x": {"field": "n", "type": "quantitative", "scale": {"domain": [6.408, 10.943], "nice": false, "zero": false}, "axis": {"orient": "bottom", "labels": false, "ticks": false, "grid": false, "title": "×10⁴", "titleX": 240, "titleY": 27, "titleAlign": "right", "titleBaseline": "alphabetic", "titleFontSize": 9.5}}
   }}
 ]
}
]
},
{
 "width": 526, "height": 233,
 "view": {"stroke": null, "fill": null},
 "layer": [
  {"data": {"name": "cap"}, "mark": {"type": "text", "font": "Liberation Serif, DejaVu Sans", "fontSize": 22, "baseline": "middle", "color": "black"},
   "encoding": {"y": {"field": "i", "type": "ordinal", "axis": null, "scale": {"domain": [1,2,3,4,5,6], "padding": 0.2}}, "text": {"field": "t"}}},
  {"data": {"values": [{"i": 1, "t": "\u202b(۶)- منحنی تعداد تجمعی الگوها و تعداد تجمعی\u202c"}]}, "mark": {"type": "text", "font": "Liberation Serif, DejaVu Sans", "fontSize": 22, "baseline": "middle", "color": "black", "align": "right", "dx": 190},
   "encoding": {"y": {"field": "i", "type": "ordinal", "axis": null, "scale": {"domain": [1,2,3,4,5,6], "padding": 0.2}}, "text": {"field": "t"}}},
  {"data": {"values": [{"i": 1, "t": "\u202bشکل\u202c"}]}, "mark": {"type": "text", "font": "Liberation Serif, DejaVu Sans", "fontSize": 22, "fontWeight": "bold", "baseline": "middle", "color": "black", "align": "right", "dx": 248},
   "encoding": {"y": {"field": "i", "type": "ordinal", "axis": null, "scale": {"domain": [1,2,3,4,5,6], "padding": 0.2}}, "text": {"field": "t"}}}
 ]
}
]
}
